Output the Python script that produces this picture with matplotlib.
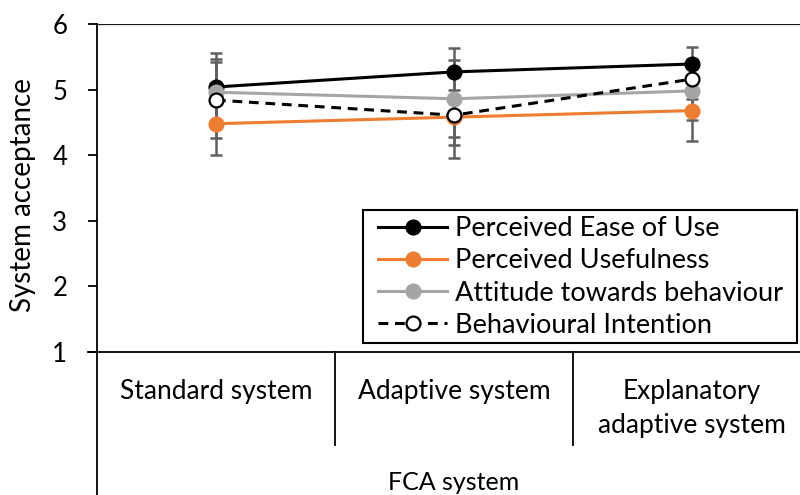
import matplotlib
matplotlib.use("Agg")
import matplotlib.pyplot as plt
from matplotlib.patches import Rectangle

plt.rcParams['font.family'] = ['Lato', 'DejaVu Sans']

categories = ["Standard system", "Adaptive system", "Explanatory\nadaptive system"]
series_names = ["Perceived Ease of Use", "Perceived Usefulness",
                "Attitude towards behaviour", "Behavioural Intention"]

ease_of_use = [5.04, 5.27, 5.39]
usefulness = [4.48, 4.58, 4.68]
attitude = [4.96, 4.86, 4.98]
intention = [4.84, 4.61, 5.16]

ease_of_use_err = [0.52, 0.36, 0.26]
usefulness_err = [0.48, 0.42, 0.47]
attitude_err = [0.50, 0.59, 0.45]
intention_err = [0.58, 0.65, 0.30]

values = [ease_of_use, usefulness, attitude, intention]
errors = [ease_of_use_err, usefulness_err, attitude_err, intention_err]

styles = [
    dict(color="#000000", mfc="#000000", mec="#000000", ls="-"),
    dict(color="#ED7D31", mfc="#ED7D31", mec="#ED7D31", ls="-"),
    dict(color="#A5A5A5", mfc="#A5A5A5", mec="#A5A5A5", ls="-"),
    dict(color="#000000", mfc="#FFFFFF", mec="#000000", ls=(0, (3.2, 2.2))),
]

W, H = 800, 495
fig = plt.figure(figsize=(W / 100, H / 100), dpi=100)
ax = fig.add_axes([97 / W, 143 / H, 714 / W, 328 / H])

x = list(range(len(categories)))

# error bars sit underneath the markers
for vals, errs in zip(values, errors):
    ax.errorbar(x, vals, yerr=errs, fmt="none", ecolor="#5F5F5F",
                elinewidth=1.8, capsize=4.5, capthick=1.8, zorder=2)

for i, (name, vals, st) in enumerate(zip(series_names, values, styles)):
    ax.plot(x, vals, linestyle=st["ls"], color=st["color"], lw=2.2,
            marker="o", markersize=10, markerfacecolor=st["mfc"],
            markeredgecolor=st["mec"], markeredgewidth=1.6,
            label=name, zorder=3 + i)

ax.set_xlim(-0.5, 2.5)
ax.set_ylim(1, 6)
ax.set_yticks([1, 2, 3, 4, 5, 6])
ax.tick_params(axis="y", direction="out", length=6.5, width=1.3,
               labelsize=18.5, pad=15)
ax.set_xticks([])
for s in ["top", "right", "bottom", "left"]:
    ax.spines[s].set_visible(False)

# top line at y = 6
ax.axhline(6, color="#1A1A1A", lw=1.6, zorder=1)

# axis lines
xt = ax.get_xaxis_transform()
ax.plot([-0.5, 2.5], [0, 0], transform=xt, color="black", lw=1.3, clip_on=False)
ax.plot([-0.5 - 9 / 238, -0.5], [0, 0], transform=xt,
        color="black", lw=1.3, clip_on=False)
ax.plot([-0.5, -0.5], [1, -143 / 328], transform=xt,
        color="black", lw=1.3, clip_on=False)
for sep in [0.5, 1.5, 2.5]:
    ax.plot([sep, sep], [0, -93 / 328], transform=xt,
            color="black", lw=1.3, clip_on=False)

# category labels
for xi, cat in zip(x, categories):
    ax.text(xi, -27 / 328, cat, transform=xt, ha="center", va="top",
            fontsize=19, linespacing=1.45)

ax.text(1, -130 / 328, "FCA system", transform=xt,
        ha="center", va="center", fontsize=18)

fig.text(23 / W, 1 - 195 / H, "System acceptance", rotation=90,
         ha="center", va="center", fontsize=20)

# legend box (white panel with black border) and its entries
box = Rectangle(((363 - 97) / 714, (352 - 343) / 328), 434 / 714, 133 / 328,
                transform=ax.transAxes, facecolor="white", edgecolor="black",
                lw=1.5, zorder=9)
ax.add_patch(box)
leg = ax.legend(loc="upper left", bbox_to_anchor=((378 - 97) / 714, (352 - 216) / 328),
                borderaxespad=0, frameon=False, fontsize=19.5,
                handlelength=2.55, handletextpad=0.3, labelspacing=0.27,
                borderpad=0)
leg.set_zorder(10)

fig.savefig("out.png", dpi=100)
